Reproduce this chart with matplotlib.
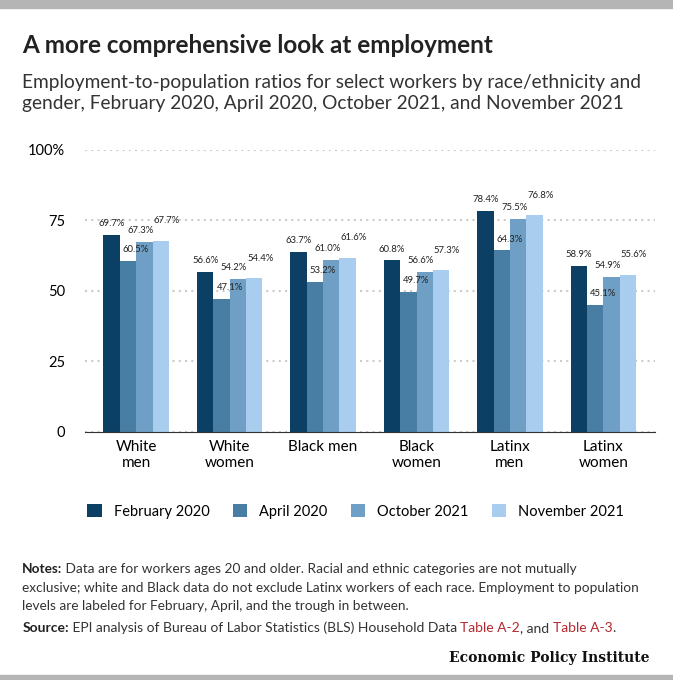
import matplotlib.pyplot as plt
from matplotlib.patches import Rectangle
import numpy as np

plt.rcParams['font.family'] = ['Lato', 'DejaVu Sans']

groups = ['White\nmen', 'White\nwomen', 'Black men', 'Black\nwomen', 'Latinx\nmen', 'Latinx\nwomen']
series = ['February 2020', 'April 2020', 'October 2021', 'November 2021']
feb20 = [69.7, 56.6, 63.7, 60.8, 78.4, 58.9]
apr20 = [60.5, 47.1, 53.2, 49.7, 64.3, 45.1]
oct21 = [67.3, 54.2, 61.0, 56.6, 75.5, 54.9]
nov21 = [67.7, 54.4, 61.6, 57.3, 76.8, 55.6]
colors = ['#0b3f63', '#487ea4', '#6f9fc4', '#a9cdee']

fig = plt.figure(figsize=(6.73, 6.8), dpi=100)
fig.patches.append(Rectangle((0, 0.988), 1, 0.012, transform=fig.transFigure, color='#b5b5b5'))
fig.patches.append(Rectangle((0, 0), 1, 0.008, transform=fig.transFigure, color='#b5b5b5'))

ax = fig.add_axes([0.126, 0.365, 0.847, 0.415])
x = np.arange(len(groups))
w = 0.175
# label offsets in points (dx, dy) for each series
label_off = [(0, 8), (5.8, 8), (-2.9, 8), (4.3, 14.4)]
for i, vals in enumerate([feb20, apr20, oct21, nov21]):
    xs = x + (i - 1.5) * w
    ax.bar(xs, vals, w, color=colors[i], label=series[i], zorder=2)
    for xi, v in zip(xs, vals):
        ax.annotate(f'{v}%', (xi, v), xytext=label_off[i], textcoords='offset points',
                    ha='center', va='center', fontsize=6.8, color='#222222', zorder=5)

ax.set_ylim(0, 100)
ax.set_xlim(-0.55, 5.55)
ax.set_yticks([0, 25, 50, 75, 100])
ax.set_yticklabels(['0', '25', '50', '75', '100%'])
ax.set_xticks(x)
ax.set_xticklabels(groups, fontsize=11)
ax.tick_params(axis='y', length=0, labelsize=10.5, pad=14)
ax.tick_params(axis='x', length=0, pad=6)
for s in ['top', 'right', 'left']:
    ax.spines[s].set_visible(False)
ax.spines['bottom'].set_color('#333333')
ax.grid(axis='y', color='#cccccc', linestyle=(0, (1, 2)), linewidth=1.5, zorder=0)

ax.legend(loc='upper center', bbox_to_anchor=(0.475, -0.21), ncol=4, frameon=False,
          fontsize=10.5, handlelength=1.0, handleheight=1.0, columnspacing=1.6)

fig.text(0.033, 0.922, 'A more comprehensive look at employment', fontsize=17.5, fontweight='bold', color='#222222')
fig.text(0.033, 0.840, 'Employment-to-population ratios for select workers by race/ethnicity and\n'
         'gender, February 2020, April 2020, October 2021, and November 2021',
         fontsize=13.8, color='#333333', linespacing=1.3)

fig.canvas.draw()
r = fig.canvas.get_renderer()


def run(parts, y, x0=0.033, size=9.8):
    xx = x0
    for s, col, wt in parts:
        t = fig.text(xx, y, s, fontsize=size, color=col, fontweight=wt)
        bb = t.get_window_extent(renderer=r)
        xx += bb.width / fig.bbox.width


notes = ['Data are for workers ages 20 and older. Racial and ethnic categories are not mutually',
         'exclusive; white and Black data do not exclude Latinx workers of each race. Employment to population',
         'levels are labeled for February, April, and the trough in between.']
run([('Notes:', '#222222', 'bold'), (' ' + notes[0], '#333333', 'normal')], 0.158)
fig.text(0.033, 0.130, notes[1], fontsize=9.8, color='#333333')
fig.text(0.033, 0.103, notes[2], fontsize=9.8, color='#333333')
run([('Source:', '#222222', 'bold'),
     (' EPI analysis of Bureau of Labor Statistics (BLS) Household Data ', '#333333', 'normal'),
     ('Table A-2', '#b5272d', 'normal'), (', and ', '#333333', 'normal'),
     ('Table A-3', '#b5272d', 'normal'), ('.', '#333333', 'normal')], 0.070, size=10)
fig.text(0.965, 0.027, 'Economic Policy Institute', fontsize=10, fontweight='bold',
         family='DejaVu Serif', ha='right', color='#111111')

fig.savefig('out.png', dpi=100)
